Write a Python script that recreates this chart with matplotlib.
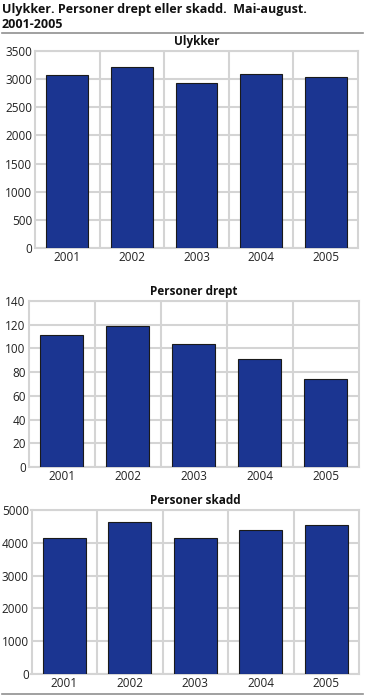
import numpy as np
import matplotlib.pyplot as plt

plt.rcParams['font.family'] = ['Open Sans', 'DejaVu Sans']

years = ['2001', '2002', '2003', '2004', '2005']
ulykker = [3075, 3210, 2937, 3091, 3038]
drept = [111, 119, 104, 91, 74]
skadd = [4137, 4625, 4156, 4390, 4533]

panels = [
    ('Ulykker', ulykker, 3500, 500, (35, 51, 358, 248)),
    ('Personer drept', drept, 140, 20, (28.5, 301, 359, 467)),
    ('Personer skadd', skadd, 5000, 1000, (31.5, 510, 359, 674)),
]

W, H = 366, 696
fig = plt.figure(figsize=(W / 100, H / 100), dpi=100)

bar_col = '#1b3591'
grid_col = '#d4d4d4'
txt_col = '#222222'

for title, vals, ymax, step, (l, t, r, b) in panels:
    ax = fig.add_axes([l / W, 1 - b / H, (r - l) / W, (b - t) / H])
    x = np.arange(len(years))
    ax.bar(x, vals, width=0.65, color=bar_col, edgecolor='#1a1a1a', linewidth=0.8, zorder=3)
    ax.set_xlim(-0.5, len(years) - 0.5)
    ax.set_ylim(0, ymax)
    ax.set_yticks(np.arange(0, ymax + 1, step))
    ax.set_xticks(x)
    ax.set_xticklabels(years)
    ax.set_xticks(np.arange(0.5, len(years) - 0.5), minor=True)
    ax.grid(axis='y', which='major', color=grid_col, linewidth=1.5, zorder=0)
    ax.grid(axis='x', which='minor', color=grid_col, linewidth=1.5, zorder=0)
    ax.tick_params(which='both', length=0, labelsize=8.5, colors=txt_col, pad=2)
    for s in ax.spines.values():
        s.set_color(grid_col)
        s.set_linewidth(1.5)
    ax.set_title(title, fontsize=8.5, fontweight='bold', color='#111111', pad=4)

fig.text(2 / W, 1 - 10 / H, 'Ulykker. Personer drept eller skadd.  Mai-august.',
         fontsize=9, fontweight='bold', color='#111111', va='center', ha='left')
fig.text(2 / W, 1 - 25 / H, '2001-2005',
         fontsize=9, fontweight='bold', color='#111111', va='center', ha='left')
fig.add_artist(plt.Line2D([2 / W, 363 / W], [1 - 32.5 / H, 1 - 32.5 / H], color='#909090', linewidth=1.2))
fig.add_artist(plt.Line2D([2 / W, 363 / W], [1 - 694 / H, 1 - 694 / H], color='#909090', linewidth=1.2))

fig.savefig('out.png', dpi=100)
